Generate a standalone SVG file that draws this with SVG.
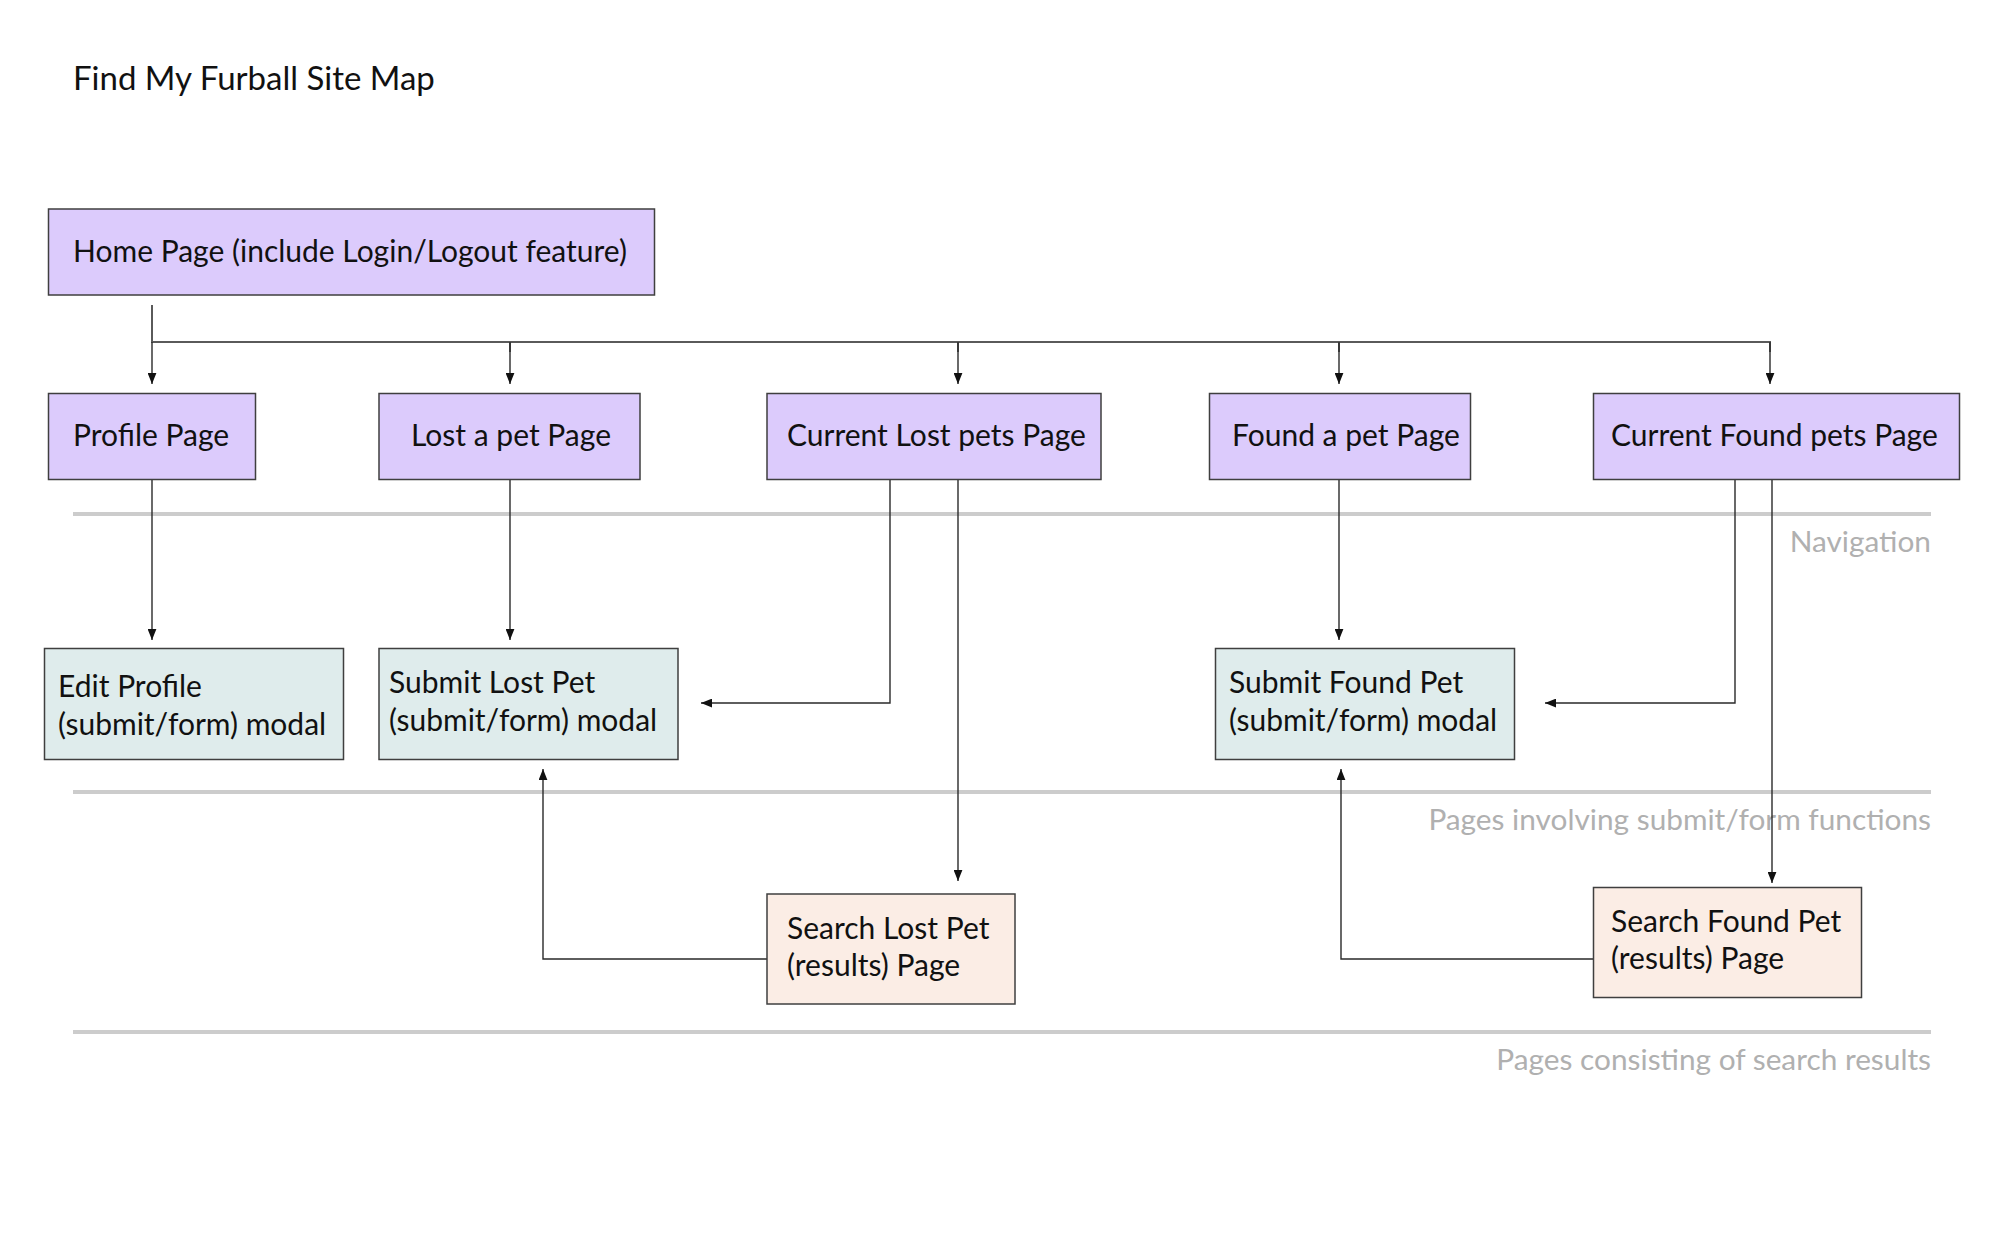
<svg xmlns="http://www.w3.org/2000/svg" width="2000" height="1250" viewBox="0 0 2000 1250">
  <style>
    .box { stroke: #3f3f3f; stroke-width: 1.5; }
    .nav { fill: #dccbfc; }
    .form { fill: #dfecec; }
    .result { fill: #fbede5; }
    .label { font-family: Lato, "Liberation Sans", sans-serif; font-size: 30px; fill: #111; }
    .title { font-family: Lato, "Liberation Sans", sans-serif; font-size: 33px; fill: #111; }
    .tier { font-family: Lato, "Liberation Sans", sans-serif; font-size: 29.8px; fill: #b0b0b0; text-anchor: end; }
    .divider { stroke: #cccccc; stroke-width: 4; }
    .link { fill: none; stroke: #2a2a2a; stroke-width: 1.4; }
    .bus { fill: none; stroke: #5a5a5a; stroke-width: 2; }
  </style>
  <defs>
    <marker id="arrow" viewBox="0 0 10 8" refX="10" refY="4" markerWidth="11" markerHeight="9" markerUnits="userSpaceOnUse" orient="auto">
      <path d="M0,0 L10,4 L0,8 Z" fill="#111"/>
    </marker>
  </defs>
  <rect width="2000" height="1250" fill="#ffffff"/>

  <text class="title" x="73" y="90">Find My Furball Site Map</text>

  <!-- tier dividers and captions -->
  <g id="tiers">
    <line class="divider" x1="73" y1="514" x2="1931" y2="514"/>
    <text class="tier" x="1931" y="552">Navigation</text>
    <line class="divider" x1="73" y1="792" x2="1931" y2="792"/>
    <text class="tier" x="1931" y="830">Pages involving submit/form functions</text>
    <line class="divider" x1="73" y1="1032" x2="1931" y2="1032"/>
    <text class="tier" x="1931" y="1070">Pages consisting of search results</text>
  </g>

  <!-- connectors -->
  <g id="connectors">
    <path class="bus" d="M152,305 V342 H1770 V352"/>
    <path class="bus" d="M510,342 V352 M958,342 V352 M1339,342 V352"/>
    <path class="link" d="M152,342 V384" marker-end="url(#arrow)"/>
    <path class="link" d="M510,342 V384" marker-end="url(#arrow)"/>
    <path class="link" d="M958,342 V384" marker-end="url(#arrow)"/>
    <path class="link" d="M1339,342 V384" marker-end="url(#arrow)"/>
    <path class="link" d="M1770,342 V384" marker-end="url(#arrow)"/>

    <path class="link" d="M152,480 V640" marker-end="url(#arrow)"/>
    <path class="link" d="M510,480 V640" marker-end="url(#arrow)"/>
    <path class="link" d="M890,480 V703 H701" marker-end="url(#arrow)"/>
    <path class="link" d="M958,480 V881" marker-end="url(#arrow)"/>
    <path class="link" d="M1339,480 V640" marker-end="url(#arrow)"/>
    <path class="link" d="M1735,480 V703 H1545" marker-end="url(#arrow)"/>
    <path class="link" d="M1772,480 V883" marker-end="url(#arrow)"/>

    <path class="link" d="M767,959 H543 V769" marker-end="url(#arrow)"/>
    <path class="link" d="M1593,959 H1341 V769" marker-end="url(#arrow)"/>
  </g>

  <!-- navigation pages -->
  <g id="home">
    <rect class="box nav" x="48.5" y="209" width="606" height="86"/>
    <text class="label" x="73" y="262">Home Page (include Login/Logout feature)</text>
  </g>
  <g id="profile">
    <rect class="box nav" x="48.5" y="393.5" width="207" height="86"/>
    <text class="label" x="73" y="446">Profile Page</text>
  </g>
  <g id="lost-a-pet">
    <rect class="box nav" x="379" y="393.5" width="261" height="86"/>
    <text class="label" x="411" y="446">Lost a pet Page</text>
  </g>
  <g id="current-lost">
    <rect class="box nav" x="767" y="393.5" width="334" height="86"/>
    <text class="label" x="787" y="446">Current Lost pets Page</text>
  </g>
  <g id="found-a-pet">
    <rect class="box nav" x="1209.5" y="393.5" width="261" height="86"/>
    <text class="label" x="1232" y="446">Found a pet Page</text>
  </g>
  <g id="current-found">
    <rect class="box nav" x="1593.5" y="393.5" width="366" height="86"/>
    <text class="label" x="1611" y="446">Current Found pets Page</text>
  </g>

  <!-- submit / form modals -->
  <g id="edit-profile">
    <rect class="box form" x="44.5" y="648.5" width="299" height="111"/>
    <text class="label" x="58" y="697">Edit Profile</text>
    <text class="label" x="58" y="735">(submit/form) modal</text>
  </g>
  <g id="submit-lost">
    <rect class="box form" x="379" y="648.5" width="299" height="111"/>
    <text class="label" x="389" y="693">Submit Lost Pet</text>
    <text class="label" x="389" y="731">(submit/form) modal</text>
  </g>
  <g id="submit-found">
    <rect class="box form" x="1215.5" y="648.5" width="299" height="111"/>
    <text class="label" x="1229" y="693">Submit Found Pet</text>
    <text class="label" x="1229" y="731">(submit/form) modal</text>
  </g>

  <!-- search result pages -->
  <g id="search-lost">
    <rect class="box result" x="767" y="894" width="248" height="110"/>
    <text class="label" x="787" y="939">Search Lost Pet</text>
    <text class="label" x="787" y="976">(results) Page</text>
  </g>
  <g id="search-found">
    <rect class="box result" x="1593.5" y="887.5" width="268" height="110"/>
    <text class="label" x="1611" y="932">Search Found Pet</text>
    <text class="label" x="1611" y="969">(results) Page</text>
  </g>
</svg>
